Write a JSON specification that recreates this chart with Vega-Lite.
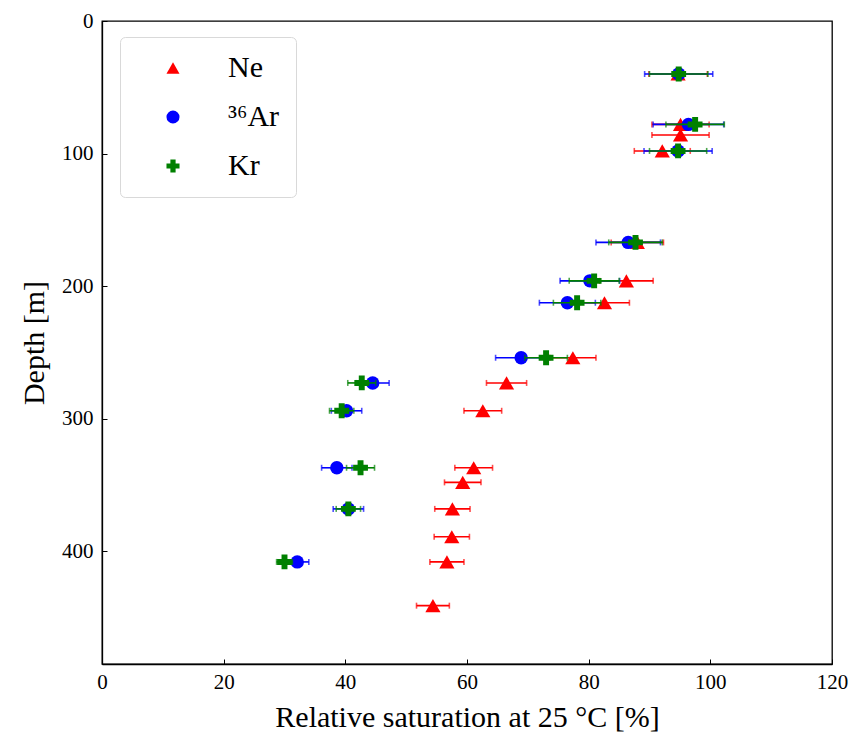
{
  "$schema": "https://vega.github.io/schema/vega-lite/v6.json",
  "width": 730,
  "height": 643,
  "autosize": "none",
  "padding": {"left": 102, "top": 21, "right": 17, "bottom": 74},
  "background": "white",
  "config": {
    "font": "Liberation Serif",
    "view": {"stroke": "black", "strokeWidth": 1.3},
    "axis": {
      "grid": false,
      "domainColor": "black",
      "domainWidth": 1.3,
      "tickColor": "black",
      "tickSize": -5,
      "tickWidth": 1,
      "labelFlush": false,
      "labelFont": "Liberation Serif",
      "labelFontSize": 21,
      "labelColor": "black",
      "titleFont": "Liberation Serif",
      "titleFontSize": 30,
      "titleFontWeight": "normal",
      "titleColor": "black"
    },
    "legend": {
      "orient": "none",
      "legendX": 18,
      "legendY": 16,
      "padding": 16,
      "strokeColor": "#d9d9d9",
      "fillColor": "white",
      "cornerRadius": 5,
      "labelFont": "Liberation Serif",
      "labelFontSize": 30,
      "labelColor": "black",
      "rowPadding": 19,
      "symbolSize": 170,
      "symbolOffset": 22,
      "labelOffset": 40
    }
  },
  "data": {
    "values": [
      {"gas": "Ne", "depth": 40, "value": 94.7, "err": 4.8},
      {"gas": "Ne", "depth": 78, "value": 95.1, "err": 4.7},
      {"gas": "Ne", "depth": 86, "value": 95.1, "err": 4.7},
      {"gas": "Ne", "depth": 98, "value": 92.1, "err": 4.6},
      {"gas": "Ne", "depth": 167, "value": 88.0, "err": 4.3},
      {"gas": "Ne", "depth": 196, "value": 86.2, "err": 4.4},
      {"gas": "Ne", "depth": 212.5, "value": 82.6, "err": 4.1},
      {"gas": "Ne", "depth": 254, "value": 77.4, "err": 3.8},
      {"gas": "Ne", "depth": 273, "value": 66.5, "err": 3.3},
      {"gas": "Ne", "depth": 294, "value": 62.6, "err": 3.1},
      {"gas": "Ne", "depth": 337, "value": 61.1, "err": 3.1},
      {"gas": "Ne", "depth": 348, "value": 59.3, "err": 3.0},
      {"gas": "Ne", "depth": 368, "value": 57.6, "err": 2.9},
      {"gas": "Ne", "depth": 389, "value": 57.5, "err": 2.9},
      {"gas": "Ne", "depth": 408, "value": 56.7, "err": 2.8},
      {"gas": "Ne", "depth": 441, "value": 54.4, "err": 2.7},
      {"gas": "³⁶Ar", "depth": 40, "value": 94.8, "err": 5.6},
      {"gas": "³⁶Ar", "depth": 78, "value": 96.4, "err": 5.8},
      {"gas": "³⁶Ar", "depth": 98, "value": 94.7, "err": 5.6},
      {"gas": "³⁶Ar", "depth": 167, "value": 86.5, "err": 5.3},
      {"gas": "³⁶Ar", "depth": 196, "value": 80.2, "err": 4.9},
      {"gas": "³⁶Ar", "depth": 212.5, "value": 76.5, "err": 4.6},
      {"gas": "³⁶Ar", "depth": 254, "value": 68.9, "err": 4.2},
      {"gas": "³⁶Ar", "depth": 273, "value": 44.5, "err": 2.7},
      {"gas": "³⁶Ar", "depth": 294, "value": 40.2, "err": 2.5},
      {"gas": "³⁶Ar", "depth": 337, "value": 38.6, "err": 2.5},
      {"gas": "³⁶Ar", "depth": 368, "value": 40.5, "err": 2.5},
      {"gas": "³⁶Ar", "depth": 408, "value": 32.1, "err": 1.9},
      {"gas": "Kr", "depth": 40, "value": 94.8, "err": 4.8},
      {"gas": "Kr", "depth": 78, "value": 97.5, "err": 4.8},
      {"gas": "Kr", "depth": 98, "value": 94.7, "err": 4.7},
      {"gas": "Kr", "depth": 167, "value": 87.7, "err": 4.4},
      {"gas": "Kr", "depth": 196, "value": 80.9, "err": 4.1},
      {"gas": "Kr", "depth": 212.5, "value": 78.1, "err": 3.9},
      {"gas": "Kr", "depth": 254, "value": 73.0, "err": 3.5},
      {"gas": "Kr", "depth": 273, "value": 42.7, "err": 2.3},
      {"gas": "Kr", "depth": 294, "value": 39.4, "err": 2.0},
      {"gas": "Kr", "depth": 337, "value": 42.5, "err": 2.3},
      {"gas": "Kr", "depth": 368, "value": 40.5, "err": 2.0},
      {"gas": "Kr", "depth": 408, "value": 30.0, "err": 1.3}
    ]
  },
  "encoding": {
    "x": {
      "field": "value",
      "type": "quantitative",
      "scale": {"domain": [0, 120], "nice": false, "zero": false},
      "axis": {"values": [0, 20, 40, 60, 80, 100, 120], "title": "Relative saturation at 25 °C [%]", "labelPadding": 12, "titlePadding": 10}
    },
    "y": {
      "field": "depth",
      "type": "quantitative",
      "scale": {"domain": [0, 485], "nice": false, "zero": false, "reverse": true},
      "axis": {"values": [0, 100, 200, 300, 400], "title": "Depth [m]", "labelPadding": 14, "titlePadding": 12}
    }
  },
  "layer": [
    {
      "data": {"values": [{"ref": 100}]},
      "mark": {"type": "rule", "color": "black", "strokeWidth": 2},
      "encoding": {"x": {"datum": 100}, "y": null}
    },
    {
      "transform": [{"filter": "datum.gas === 'Ne'"}],
      "mark": {"type": "errorbar", "color": "#ff0000", "thickness": 1.6, "ticks": {"size": 6, "thickness": 1.6}},
      "encoding": {"xError": {"field": "err"}}
    },
    {
      "transform": [{"filter": "datum.gas === 'Ne'"}],
      "mark": {"type": "point", "filled": true, "opacity": 1, "size": 230},
      "encoding": {
        "color": {"field": "gas", "type": "nominal", "scale": {"domain": ["Ne", "³⁶Ar", "Kr"], "range": ["#ff0000", "#0000ff", "#008000"]}, "legend": {"title": null}},
        "shape": {"field": "gas", "type": "nominal", "scale": {"domain": ["Ne", "³⁶Ar", "Kr"], "range": ["triangle-up", "circle", "cross"]}, "legend": {"title": null}}
      }
    },
    {
      "transform": [{"filter": "datum.gas === '³⁶Ar'"}],
      "mark": {"type": "errorbar", "color": "#0000ff", "thickness": 1.6, "ticks": {"size": 6, "thickness": 1.6}},
      "encoding": {"xError": {"field": "err"}}
    },
    {
      "transform": [{"filter": "datum.gas === '³⁶Ar'"}],
      "mark": {"type": "point", "filled": true, "opacity": 1, "size": 180},
      "encoding": {
        "color": {"field": "gas", "type": "nominal", "scale": {"domain": ["Ne", "³⁶Ar", "Kr"], "range": ["#ff0000", "#0000ff", "#008000"]}, "legend": {"title": null}},
        "shape": {"field": "gas", "type": "nominal", "scale": {"domain": ["Ne", "³⁶Ar", "Kr"], "range": ["triangle-up", "circle", "cross"]}, "legend": {"title": null}}
      }
    },
    {
      "transform": [{"filter": "datum.gas === 'Kr'"}],
      "mark": {"type": "errorbar", "color": "#008000", "thickness": 1.6, "ticks": {"size": 6, "thickness": 1.6}},
      "encoding": {"xError": {"field": "err"}}
    },
    {
      "transform": [{"filter": "datum.gas === 'Kr'"}],
      "mark": {"type": "point", "filled": true, "opacity": 1, "size": 220},
      "encoding": {
        "color": {"field": "gas", "type": "nominal", "scale": {"domain": ["Ne", "³⁶Ar", "Kr"], "range": ["#ff0000", "#0000ff", "#008000"]}, "legend": {"title": null}},
        "shape": {"field": "gas", "type": "nominal", "scale": {"domain": ["Ne", "³⁶Ar", "Kr"], "range": ["triangle-up", "circle", "cross"]}, "legend": {"title": null}}
      }
    }
  ]
}
